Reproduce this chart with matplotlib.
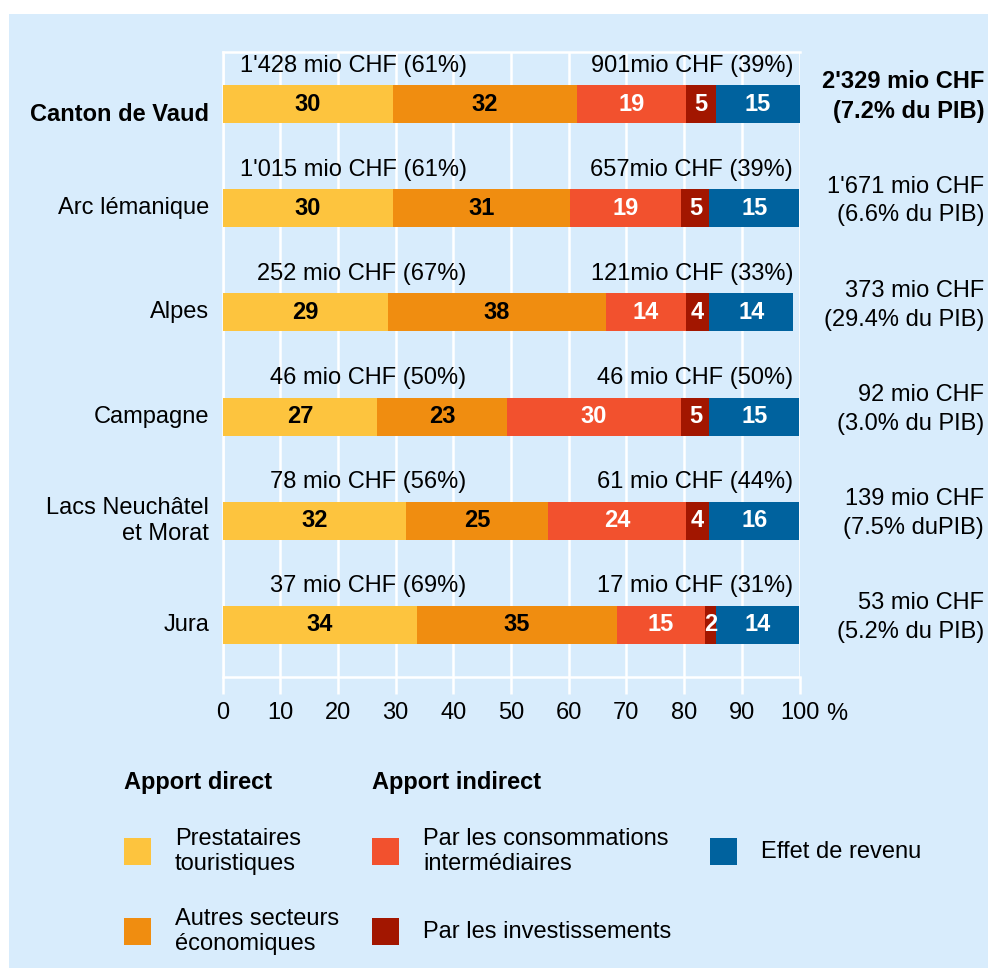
import matplotlib.pyplot as plt
from matplotlib.patches import Rectangle
from matplotlib.transforms import blended_transform_factory
import numpy as np

plt.rcParams['font.family'] = ['Liberation Sans', 'DejaVu Sans']

regions = ["Canton de Vaud", "Arc lémanique", "Alpes", "Campagne",
           "Lacs Neuchâtel\net Morat", "Jura"]

# parts in % of the total
prestataires = [29.5, 29.5, 28.6, 26.8, 31.8, 33.7]
autres = [31.9, 30.8, 37.9, 22.5, 24.6, 34.6]
consommations = [18.9, 19.2, 13.8, 30.2, 23.9, 15.3]
investissements = [5.2, 4.9, 4.1, 4.9, 4.1, 1.9]
revenu = [14.5, 15.5, 14.5, 15.5, 15.5, 14.4]

# rounded labels printed in the bars
prestataires_lab = [30, 30, 29, 27, 32, 34]
autres_lab = [32, 31, 38, 23, 25, 35]
consommations_lab = [19, 19, 14, 30, 24, 15]
investissements_lab = [5, 5, 4, 5, 4, 2]
revenu_lab = [15, 15, 14, 15, 16, 14]

direct_txt = ["1'428 mio CHF (61%)", "1'015 mio CHF (61%)", "252 mio CHF (67%)",
              "46 mio CHF (50%)", "78 mio CHF (56%)", "37 mio CHF (69%)"]
indirect_txt = ["901mio CHF (39%)", "657mio CHF (39%)", "121mio CHF (33%)",
                "46 mio CHF (50%)", "61 mio CHF (44%)", "17 mio CHF (31%)"]
total_txt = ["2'329 mio CHF\n(7.2% du PIB)", "1'671 mio CHF\n(6.6% du PIB)",
             "373 mio CHF\n(29.4% du PIB)", "92 mio CHF\n(3.0% du PIB)",
             "139 mio CHF\n(7.5% duPIB)", "53 mio CHF\n(5.2% du PIB)"]

series_names = ["Prestataires\ntouristiques", "Autres secteurs\néconomiques",
                "Par les consommations\nintermédiaires", "Par les investissements",
                "Effet de revenu"]
colors = ["#fdc43e", "#f08d10", "#f2512e", "#a21600", "#00629e"]
text_colors = ["black", "black", "white", "white", "white"]

W, H = 988, 968
bg = "#d8ecfc"
fs = 17

fig = plt.figure(figsize=(W / 100, H / 100), dpi=100, facecolor="white")


def fx(px):
    return px / W


def fy(py):
    return 1 - py / H


fig.patches.append(Rectangle((fx(9), 0), 1 - fx(9), fy(14), transform=fig.transFigure,
                             facecolor=bg, edgecolor="none", zorder=-10))

ax = fig.add_axes([fx(222.5), fy(677), fx(799.5) - fx(222.5), fy(52) - fy(677)])
ax.set_facecolor("none")

y = np.arange(len(regions))
data = [prestataires, autres, consommations, investissements, revenu]
labs = [prestataires_lab, autres_lab, consommations_lab, investissements_lab, revenu_lab]

left = np.zeros(len(regions))
for vals, lab, col, tcol in zip(data, labs, colors, text_colors):
    vals = np.array(vals)
    ax.barh(y, vals, left=left, height=0.365, color=col, edgecolor="none", zorder=3)
    for i in range(len(regions)):
        ax.text(left[i] + vals[i] / 2, y[i], str(lab[i]), ha="center", va="center",
                fontsize=fs, fontweight="bold", color=tcol, zorder=4)
    left += vals

for i in range(len(regions)):
    ax.text(42.3, y[i] - 0.37, direct_txt[i], ha="right", va="center", fontsize=fs)
    ax.text(98.9, y[i] - 0.37, indirect_txt[i], ha="right", va="center", fontsize=fs)
    w = "bold" if i == 0 else "normal"
    ax.text(-2.3, y[i] + (0.1 if i == 0 else 0), regions[i], ha="right", va="center",
            multialignment="right", fontsize=fs, fontweight=w, linespacing=1.25)

tr = blended_transform_factory(fig.transFigure, ax.transData)
for i in range(len(regions)):
    w = "bold" if i == 0 else "normal"
    ax.text(fx(984), y[i] - 0.07, total_txt[i], transform=tr, ha="right", va="center",
            multialignment="right", fontsize=fs, fontweight=w, linespacing=1.4)

ax.set_xlim(0, 100)
ax.set_ylim(5.5, -0.5)
ax.set_xticks(np.arange(0, 101, 10))
ax.set_yticks([])
ax.tick_params(axis="x", colors="white", length=12, width=1.8, pad=6,
               labelcolor="black", labelsize=fs)
ax.grid(axis="x", color="white", linewidth=1.8, zorder=0)
ax.set_axisbelow(True)
for s in ["top", "bottom", "left"]:
    ax.spines[s].set_color("white")
    ax.spines[s].set_linewidth(1.8)
ax.spines["right"].set_visible(False)
ax.text(106.5, 5.5 + 26 / 104, "%", ha="center", va="top", fontsize=fs, clip_on=False)

# legend
fig.text(fx(124), fy(783), "Apport direct", ha="left", va="center", fontsize=fs, fontweight="bold")
fig.text(fx(372), fy(783), "Apport indirect", ha="left", va="center", fontsize=fs, fontweight="bold")
legend_pos = [(124, 838), (124, 918), (372, 838), (372, 918), (710, 838)]
for (px, py), name, col in zip(legend_pos, series_names, colors):
    fig.patches.append(Rectangle((fx(px), fy(py + 27)), 27 / W, 27 / H,
                                 transform=fig.transFigure, facecolor=col, edgecolor="none"))
    fig.text(fx(px + 51), fy(py + 13.5), name, ha="left", va="center", fontsize=fs,
             multialignment="left", linespacing=1.22)

fig.savefig("out.png", dpi=100, facecolor="white")
